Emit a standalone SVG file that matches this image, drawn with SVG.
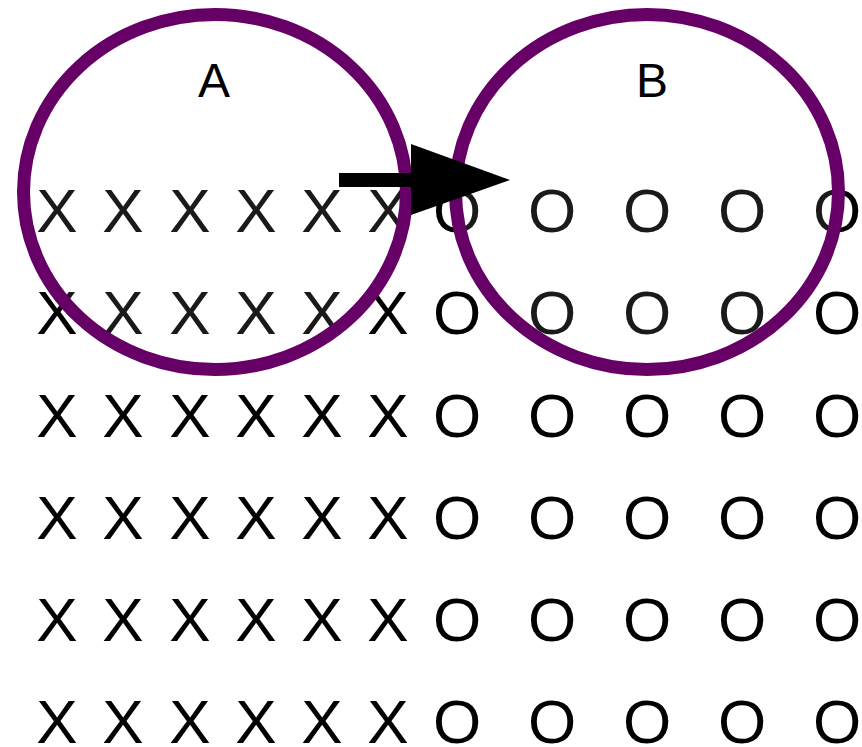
<svg xmlns="http://www.w3.org/2000/svg" width="862" height="747" viewBox="0 0 862 747">
<style>
.g{font-family:"Liberation Sans",Arial,sans-serif;font-size:62px;fill:#000;text-anchor:middle}
.lbl{font-family:"Liberation Sans",Arial,sans-serif;font-size:48px;fill:#000;text-anchor:middle}
.ell{fill:#fff;fill-opacity:0.1;stroke:#660066;stroke-width:13}
</style>
<rect width="862" height="747" fill="#fff"/>
<g id="grid">
<g id="row1" class="g"><text x="57" y="232">X</text><text x="123" y="232">X</text><text x="190" y="232">X</text><text x="256" y="232">X</text><text x="322" y="232">X</text><text x="388" y="232">X</text><text x="457" y="232">O</text><text x="552" y="232">O</text><text x="647" y="232">O</text><text x="742" y="232">O</text><text x="837" y="232">O</text></g>
<g id="row2" class="g"><text x="57" y="334">X</text><text x="123" y="334">X</text><text x="190" y="334">X</text><text x="256" y="334">X</text><text x="322" y="334">X</text><text x="388" y="334">X</text><text x="457" y="334">O</text><text x="552" y="334">O</text><text x="647" y="334">O</text><text x="742" y="334">O</text><text x="837" y="334">O</text></g>
<g id="row3" class="g"><text x="57" y="437">X</text><text x="123" y="437">X</text><text x="190" y="437">X</text><text x="256" y="437">X</text><text x="322" y="437">X</text><text x="388" y="437">X</text><text x="457" y="437">O</text><text x="552" y="437">O</text><text x="647" y="437">O</text><text x="742" y="437">O</text><text x="837" y="437">O</text></g>
<g id="row4" class="g"><text x="57" y="539">X</text><text x="123" y="539">X</text><text x="190" y="539">X</text><text x="256" y="539">X</text><text x="322" y="539">X</text><text x="388" y="539">X</text><text x="457" y="539">O</text><text x="552" y="539">O</text><text x="647" y="539">O</text><text x="742" y="539">O</text><text x="837" y="539">O</text></g>
<g id="row5" class="g"><text x="57" y="641">X</text><text x="123" y="641">X</text><text x="190" y="641">X</text><text x="256" y="641">X</text><text x="322" y="641">X</text><text x="388" y="641">X</text><text x="457" y="641">O</text><text x="552" y="641">O</text><text x="647" y="641">O</text><text x="742" y="641">O</text><text x="837" y="641">O</text></g>
<g id="row6" class="g"><text x="57" y="743">X</text><text x="123" y="743">X</text><text x="190" y="743">X</text><text x="256" y="743">X</text><text x="322" y="743">X</text><text x="388" y="743">X</text><text x="457" y="743">O</text><text x="552" y="743">O</text><text x="647" y="743">O</text><text x="742" y="743">O</text><text x="837" y="743">O</text></g>
</g>
<g id="nodeA">
<ellipse class="ell" cx="215" cy="192" rx="191.5" ry="177.5"/>
<text class="lbl" x="214" y="97">A</text>
</g>
<g id="nodeB">
<ellipse class="ell" cx="647" cy="192" rx="191.5" ry="177.5"/>
<text class="lbl" x="652" y="97">B</text>
</g>
<g id="connectors">
<line x1="339" y1="180" x2="414" y2="180" stroke="#000" stroke-width="14"/>
<polygon points="411,144 510,180 411,215" fill="#000"/>
</g>
</svg>
